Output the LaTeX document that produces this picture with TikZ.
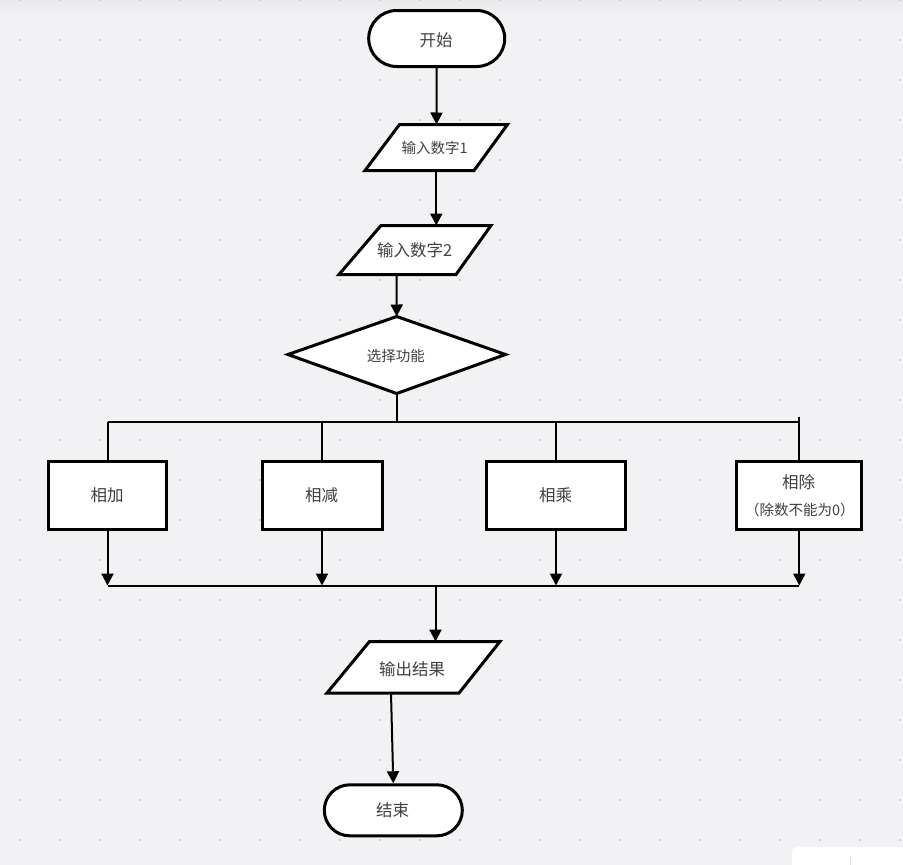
\documentclass[tikz,border=0pt]{standalone}
\usepackage{fontspec}
\setmainfont{Noto Sans CJK SC}
\usetikzlibrary{arrows.meta,calc}
\definecolor{bgc}{HTML}{F2F2F4}
\definecolor{topc}{HTML}{E9E9EC}
\definecolor{dotc}{HTML}{C2C2C6}
\definecolor{txtc}{HTML}{404040}
\begin{document}
\begin{tikzpicture}[x=1pt,y=-1pt,
  shp/.style={draw=black,line width=3pt,fill=white,line join=miter},
  conn/.style={draw=black,line width=2pt},
  arr/.style={conn,-{Triangle[width=12pt,length=12pt]}},
  lbl/.style={text=txtc,inner sep=0pt,font=\fontsize{16.5}{20}\selectfont},
  lblsmall/.style={lbl,font=\fontsize{14.5}{18}\selectfont},
  box/.style={shp,rectangle,minimum height=68pt,inner sep=0pt,text=txtc,font=\fontsize{16.5}{20}\selectfont},
  term/.style={shp,rectangle,inner sep=0pt,text=txtc,font=\fontsize{16.5}{20}\selectfont}
]
\useasboundingbox (0,0) rectangle (903,865);
% background
\fill[bgc] (0,0) rectangle (903,865);
\shade[top color=topc,bottom color=bgc] (0,0) rectangle (903,16);
\foreach \i in {0,...,22} {
  \foreach \j in {0,...,21} {
    \fill[dotc] ({20+40*\i},{40*\j}) circle (1.2pt);
  }
}
\begin{scope}
  \clip (0,0) rectangle (903,865);
  \fill[white,rounded corners=7pt] (792,847) rectangle (920,885);
  \draw[black!12,line width=0.8pt] (850,856) -- (850,865);
\end{scope}

% terminals
\node[term,minimum width=136pt,minimum height=56pt,rounded corners=28pt] (start) at (436.7,38.5) {};
\node[lbl] (startt) at (436,40.5) {开始};
\node[term,minimum width=138pt,minimum height=51pt,rounded corners=25.5pt] (stop) at (393.3,810.3) {};
\node[lbl] (stopt) at (392.5,810) {结束};

% input 1
\draw[shp] (399.5,124.5) -- (507.5,124.5) -- (474,170.5) -- (365,170.5) -- cycle;
\node[lblsmall] (in1) at (434.7,148) {输入数字1};
\coordinate (in1top) at (436.5,124.5);
\coordinate (in1bot) at (436.3,170.5);
% input 2
\draw[shp] (381,225.5) -- (491,225.5) -- (456,274.5) -- (339,274.5) -- cycle;
\node[lbl] (in2) at (414.8,250) {输入数字2};
\coordinate (in2top) at (436.3,225.5);
\coordinate (in2bot) at (396.6,274.5);
% decision
\draw[shp] (396.7,316.5) -- (505.5,354.5) -- (396.7,393.5) -- (288,354.5) -- cycle;
\node[lblsmall] (dec) at (395.8,356) {选择功能};
\coordinate (dectop) at (396.7,316.5);
\coordinate (decbot) at (396.7,393.5);
% buses
\coordinate (bus1) at (396.7,421.5);
\coordinate (bus2) at (435.5,585.5);

% process boxes
\node[box,minimum width=118pt] (add) at (107.5,495) {};
\node[lbl] (addt) at (107,495.7) {相加};
\node[box,minimum width=120pt] (sub) at (322,495) {};
\node[lbl] (subt) at (321.5,495.7) {相减};
\node[box,minimum width=139pt] (mul) at (556,495) {};
\node[lbl] (mult) at (555.5,495.7) {相乘};
\node[box,minimum width=125pt] (div) at (799.3,495) {};
\node[lbl] (divt) at (798.7,482.5) {相除};
\node[lbl,font=\fontsize{14.5}{18}\selectfont] (divt2) at (799.8,509.7) {（除数不能为0）};

% output
\draw[shp] (369.5,641.5) -- (500,641.5) -- (459,693) -- (327,693) -- cycle;
\node[lbl] (out) at (412.2,669) {输出结果};
\coordinate (outtop) at (435.5,641.5);
\coordinate (outbot) at (391,693);

% connectors
\draw[arr] (start.south) -- (in1top);
\draw[arr] (in1bot) -- (in2top);
\draw[arr] (in2bot) -- (dectop);
\draw[conn] (decbot) -- (bus1);
\draw[conn] (add.north |- bus1) -- (div.north |- bus1);
\draw[conn] (add.north |- bus1) -- (add.north);
\draw[conn] (sub.north |- bus1) -- (sub.north);
\draw[conn] (mul.north |- bus1) -- (mul.north);
\draw[conn] ($(div.north |- bus1)+(0,-5)$) -- (div.north);
\draw[arr] (add.south) -- (add.south |- bus2);
\draw[arr] (sub.south) -- (sub.south |- bus2);
\draw[arr] (mul.south) -- (mul.south |- bus2);
\draw[arr] (div.south) -- (div.south |- bus2);
\draw[conn] (add.south |- bus2) -- (div.south |- bus2);
\draw[arr] (bus2) -- (outtop);
\draw[arr] (outbot) -- (stop.north);
\end{tikzpicture}
\end{document}
